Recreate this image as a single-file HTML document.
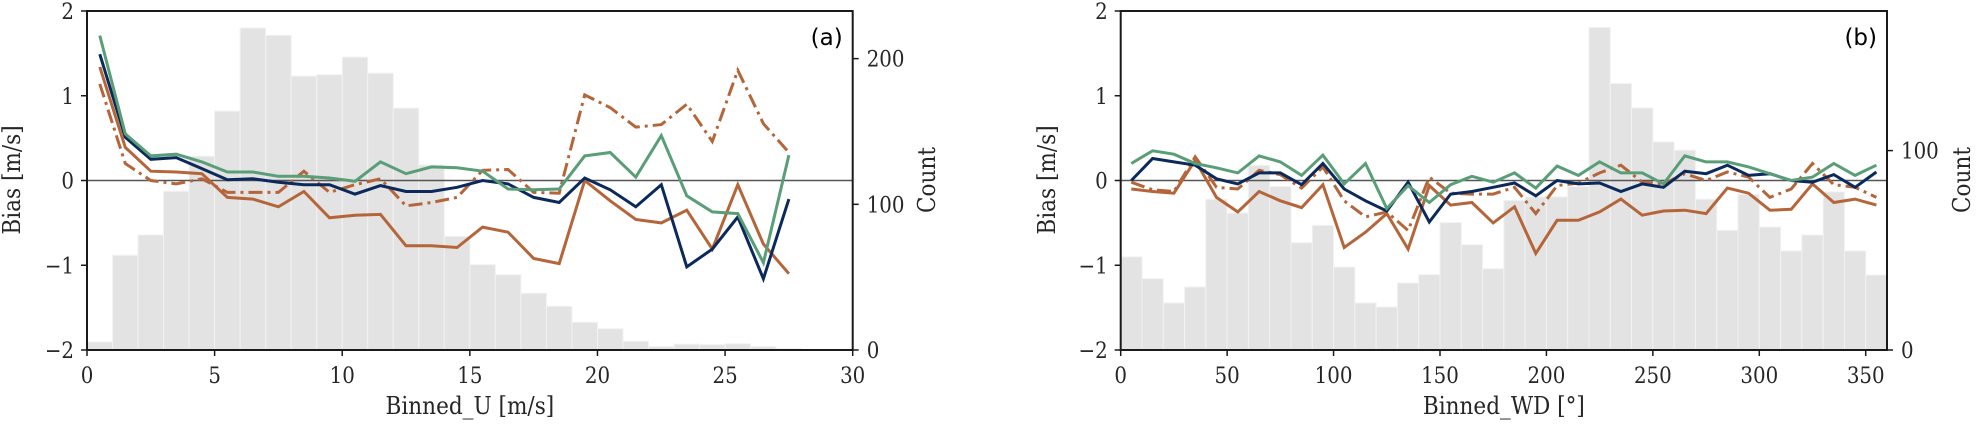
<!DOCTYPE html>
<html><head><meta charset="utf-8"><style>
html,body{margin:0;padding:0;background:#fff;}
svg text{font-family:"DejaVu Serif","Liberation Serif",serif;font-stretch:condensed;fill:#262626;}
</style></head><body>
<svg id="chart" width="1980" height="424" viewBox="0 0 1980 424" xmlns="http://www.w3.org/2000/svg"></svg>
<script>
// Panel (a) data
const uBins = [0,1,2,3,4,5,6,7,8,9,10,11,12,13,14,15,16,17,18,19,20,21,22,23,24,25,26,27];
const uCounts = [5.5,65,79,109,133,164,221,216,188,189,201,190,166,127,78,58.6,51.7,39,30,19,14.6,6,2.3,4,3.7,4.3,2.3,1];
const uCenters = [0.5,1.5,2.5,3.5,4.5,5.5,6.5,7.5,8.5,9.5,10.5,11.5,12.5,13.5,14.5,15.5,16.5,17.5,18.5,19.5,20.5,21.5,22.5,23.5,24.5,25.5,26.5,27.5];
const uNavy = [1.49,0.51,0.25,0.27,0.14,0.01,0.02,-0.02,-0.05,-0.05,-0.16,-0.06,-0.13,-0.13,-0.08,0,-0.04,-0.2,-0.26,0.03,-0.11,-0.31,-0.05,-1.02,-0.81,-0.43,-1.16,-0.22];
const uGreen = [1.71,0.55,0.29,0.31,0.22,0.1,0.1,0.05,0.05,0.03,-0.01,0.22,0.08,0.16,0.15,0.11,-0.1,-0.11,-0.1,0.29,0.33,0.04,0.53,-0.18,-0.37,-0.39,-0.97,0.3];
const uOrange = [1.34,0.39,0.11,0.1,0.08,-0.2,-0.22,-0.31,-0.13,-0.44,-0.41,-0.4,-0.77,-0.77,-0.79,-0.55,-0.61,-0.92,-0.98,0,-0.24,-0.46,-0.5,-0.35,-0.81,-0.05,-0.75,-1.1];
const uOrangeDash = [1.14,0.2,0,-0.04,0.02,-0.14,-0.14,-0.14,0.11,-0.14,-0.05,0.02,-0.3,-0.26,-0.2,0.12,0.13,-0.14,-0.15,1.01,0.86,0.63,0.66,0.9,0.46,1.3,0.67,0.33];
const uTicks = [0,5,10,15,20,25,30];
const uCountTicks = [0,100,200];
// Panel (b) data
const wdBins = [0,10,20,30,40,50,60,70,80,90,100,110,120,130,140,150,160,170,180,190,200,210,220,230,240,250,260,270,280,290,300,310,320,330,340,350];
const wdCounts = [46.7,35.8,23.6,31.6,75.6,68.7,92.6,82,53.8,62.5,41.6,23.6,21.6,33.6,37.8,63.9,52.8,40.8,75,76.8,76.8,82,161.7,133.6,121.4,104.3,100.2,75.6,60,78,61.7,49.7,57.7,79.3,49.7,37.6];
const wdCenters = [5,15,25,35,45,55,65,75,85,95,105,115,125,135,145,155,165,175,185,195,205,215,225,235,245,255,265,275,285,295,305,315,325,335,345,355];
const wdNavy = [0,0.26,0.22,0.18,0.02,-0.04,0.09,0.09,-0.05,0.2,-0.1,-0.24,-0.36,-0.02,-0.49,-0.16,-0.13,-0.08,-0.03,-0.18,0,-0.04,-0.03,-0.13,-0.04,-0.08,0.11,0.08,0.18,0.06,0.08,0,-0.02,0.07,-0.08,0.1];
const wdGreen = [0.2,0.35,0.31,0.2,0.15,0.09,0.29,0.22,0.06,0.3,-0.04,0.2,-0.33,-0.06,-0.26,-0.05,0.05,-0.02,0.09,-0.09,0.17,0.06,0.22,0.09,0.09,-0.04,0.29,0.22,0.22,0.16,0.08,0,0.04,0.2,0.06,0.18];
const wdOrange = [-0.1,-0.13,-0.15,0.24,-0.2,-0.37,-0.13,-0.24,-0.32,-0.05,-0.79,-0.61,-0.39,-0.81,-0.06,-0.29,-0.26,-0.5,-0.31,-0.86,-0.47,-0.47,-0.37,-0.22,-0.41,-0.36,-0.35,-0.39,-0.09,-0.15,-0.35,-0.34,-0.04,-0.26,-0.22,-0.29];
const wdOrangeDash = [-0.02,-0.11,-0.13,0.28,-0.08,-0.1,0.12,0.07,-0.09,0.16,-0.24,-0.43,-0.37,-0.59,0.04,-0.15,-0.16,-0.16,-0.08,-0.39,-0.06,-0.03,0.09,0.18,-0.02,-0.04,0.08,0,0.1,0.04,-0.2,-0.1,0.2,-0.05,-0.08,-0.2];
const wdTicks = [0,50,100,150,200,250,300,350];
const wdCountTicks = [0,100];
const biasTicks = [-2,-1,0,1,2];

const svg = document.getElementById('chart');
const NS = 'http://www.w3.org/2000/svg';
function mk(tag, attrs, parent){const e=document.createElementNS(NS,tag);for(const k in attrs)e.setAttribute(k,attrs[k]);(parent||svg).appendChild(e);return e;}
const TOP=11, BOT=350;
const C_NAVY='#0b2a5b', C_GREEN='#5a9e78', C_OR='#b5653a';

function panel(o){
  const g = mk('g',{});
  
  
  const xs = v => o.x0 + (v - o.xmin)/(o.xmax - o.xmin)*(o.x1 - o.x0);
  const ys = v => BOT - (v + 2)/4*(BOT - TOP);
  const cs = v => BOT - v/o.cmax*(BOT - TOP);
  for(let i=0;i<o.bins.length;i++){
    const r = mk('rect',{x:xs(o.bins[i]),y:cs(o.counts[i]),width:xs(o.bins[i]+o.bw)-xs(o.bins[i]),height:BOT-cs(o.counts[i]),fill:'#e3e3e3',stroke:'#f2f2f2','stroke-width':1},g);
    
    
  }
  const z = mk('line',{x1:o.x0,x2:o.x1,y1:ys(0),y2:ys(0),stroke:'#555','stroke-width':1.5},g);
  
  
  const series = [
    {d:o.or, c:C_OR, dash:null, n:'orange-solid-series'},
    {d:o.ord, c:C_OR, dash:'14,5,3,5', n:'orange-dashdot-series'},
    {d:o.navy, c:C_NAVY, dash:null, n:'navy-series'},
    {d:o.green, c:C_GREEN, dash:null, n:'green-series'}
  ];
  series.forEach(s=>{
    const pts = o.centers.map((c,i)=>xs(c).toFixed(1)+','+ys(s.d[i]).toFixed(1)).join(' ');
    const a = {points:pts,fill:'none',stroke:s.c,'stroke-width':3,'stroke-linejoin':'miter'};
    if(s.dash) a['stroke-dasharray']=s.dash;
    const p = mk('polyline',a,g);
    
    
  });
  const f = mk('rect',{x:o.x0,y:TOP,width:o.x1-o.x0,height:BOT-TOP,fill:'none',stroke:'#1a1a1a','stroke-width':2},g);
  
  
  o.xticks.forEach(t=>{
    mk('line',{x1:xs(t),x2:xs(t),y1:BOT,y2:BOT+6,stroke:'#1a1a1a','stroke-width':1.5},g);
    const tx = mk('text',{x:xs(t),y:383,'font-size':22,'text-anchor':'middle'},g);
    tx.textContent = t;
    
    
  });
  biasTicks.forEach(t=>{
    mk('line',{x1:o.x0-6,x2:o.x0,y1:ys(t),y2:ys(t),stroke:'#1a1a1a','stroke-width':1.5},g);
    const tx = mk('text',{x:o.x0-13,y:ys(t)+8,'font-size':22,'text-anchor':'end'},g);
    tx.textContent = t<0 ? '\u2212'+Math.abs(t) : t;
    
    
  });
  o.cticks.forEach(t=>{
    mk('line',{x1:o.x1,x2:o.x1+6,y1:cs(t),y2:cs(t),stroke:'#1a1a1a','stroke-width':1.5},g);
    const tx = mk('text',{x:o.x1+14,y:cs(t)+8,'font-size':22,'text-anchor':'start'},g);
    tx.textContent = t;
    
    
  });
  const xl = mk('text',{x:(o.x0+o.x1)/2,y:414,'font-size':24,'text-anchor':'middle'},g);
  xl.textContent = o.xlabel;
  
  
  const yl = mk('text',{x:0,y:0,'font-size':24,'text-anchor':'middle',transform:`translate(${o.ylx},180) rotate(-90)`},g);
  yl.textContent = 'Bias [m/s]';
  
  
  const cl = mk('text',{x:0,y:0,'font-size':24,'text-anchor':'middle',transform:`translate(${o.clx},180) rotate(-90)`},g);
  cl.textContent = 'Count';
  
  
  const pl = mk('text',{x:o.x1-10,y:45,'font-size':23,'text-anchor':'end',style:'font-family:"DejaVu Sans","Liberation Sans",sans-serif;font-stretch:normal;fill:#000'},g);
  pl.textContent = o.tag;
  
  
}

panel({name:'panel-a-wind-speed',x0:87,x1:852.7,xmin:0,xmax:30,cmax:232.7,bins:uBins,bw:1,counts:uCounts,centers:uCenters,
  navy:uNavy,green:uGreen,or:uOrange,ord:uOrangeDash,xticks:uTicks,cticks:uCountTicks,xlabel:'Binned_U [m/s]',ylx:20,clx:935,tag:'(a)'});
panel({name:'panel-b-wind-direction',x0:1120.7,x1:1887,xmin:0,xmax:360,cmax:170,bins:wdBins,bw:10,counts:wdCounts,centers:wdCenters,
  navy:wdNavy,green:wdGreen,or:wdOrange,ord:wdOrangeDash,xticks:wdTicks,cticks:wdCountTicks,xlabel:'Binned_WD [\u00b0]',ylx:1055,clx:1970,tag:'(b)'});
</script>
</body></html>
